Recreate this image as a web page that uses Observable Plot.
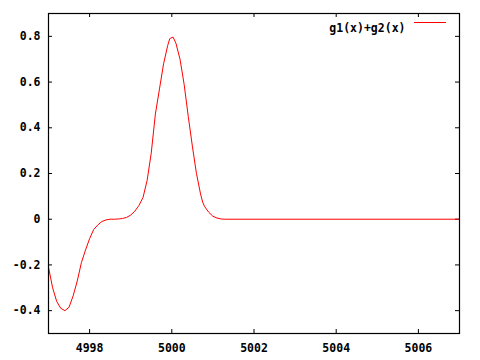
<!DOCTYPE html>
<html>
<head>
<meta charset="utf-8">
<script src="https://cdn.jsdelivr.net/npm/d3@7"></script>
<script src="https://cdn.jsdelivr.net/npm/@observablehq/plot@0.6"></script>
<style>
  html, body { margin: 0; padding: 0; background: #fff; }
  #chart { width: 480px; height: 360px; }
</style>
</head>
<body>
<div id="chart"></div>
<script>
// Curve values (x, g1(x)+g2(x))
const xs = [4997.0, 4997.1, 4997.2, 4997.3, 4997.4, 4997.5, 4997.6, 4997.7, 4997.8, 4997.9,
            4998.0, 4998.1, 4998.2, 4998.3, 4998.4, 4998.5, 4998.6, 4998.7, 4998.8, 4998.9,
            4999.0, 4999.1, 4999.2, 4999.3, 4999.4, 4999.5, 4999.6, 4999.7, 4999.8, 4999.9,
            4999.95, 5000.03, 5000.1, 5000.2, 5000.3, 5000.4, 5000.5, 5000.6, 5000.7, 5000.75,
            5000.8, 5000.9, 5001.0, 5001.1, 5001.2, 5001.3, 5007.0];
const ys = [-0.21, -0.30, -0.36, -0.39, -0.40, -0.385, -0.335, -0.27, -0.19, -0.135,
            -0.085, -0.045, -0.025, -0.01, -0.003, 0, 0, 0.001, 0.003, 0.008,
            0.018, 0.035, 0.06, 0.095, 0.17, 0.29, 0.46, 0.57, 0.68, 0.76,
            0.79, 0.797, 0.77, 0.70, 0.59, 0.45, 0.32, 0.20, 0.11, 0.075,
            0.055, 0.03, 0.013, 0.005, 0.001, 0, 0];
const xTicks = [4998, 5000, 5002, 5004, 5006];
const yTicks = [-0.4, -0.2, 0, 0.2, 0.4, 0.6, 0.8];
const seriesName = "g1(x)+g2(x)";

const data = xs.map((x, i) => ({x, y: ys[i]}));
const W = 480, H = 360, mL = 48, mR = 21, mT = 13, mB = 27;
const pw = W - mL - mR, ph = H - mT - mB;
const tl = 4;

const chart = Plot.plot({
  width: W, height: H,
  marginLeft: mL, marginRight: mR, marginTop: mT, marginBottom: mB,
  style: {fontFamily: "'DejaVu Sans Mono', monospace", fontSize: "11.5px", fontWeight: "bold", background: "#fff", color: "#000"},
  x: {domain: [4997, 5007], label: null},
  y: {domain: [-0.5, 0.9], label: null},
  marks: [
    Plot.axisX(xTicks, {tickSize: 0, tickPadding: 10, tickFormat: d => String(d), fill: "#000"}),
    Plot.axisY(yTicks, {tickSize: 0, tickPadding: 8, tickFormat: d => String(d), fill: "#000"}),
    // inward ticks bottom/top
    Plot.tickX(xTicks, {x: d => d, stroke: "#000", insetTop: ph - tl}),
    Plot.tickX(xTicks, {x: d => d, stroke: "#000", insetBottom: ph - tl}),
    // inward ticks left/right
    Plot.tickY(yTicks, {y: d => d, stroke: "#000", insetRight: pw - tl}),
    Plot.tickY(yTicks, {y: d => d, stroke: "#000", insetLeft: pw - tl}),
    Plot.line(data, {x: "x", y: "y", stroke: "#ff0000", strokeWidth: 1}),
    Plot.frame({stroke: "#000", strokeWidth: 1.2}),
    Plot.text([seriesName], {text: d => d, frameAnchor: "top-right", dx: -54, dy: 10, textAnchor: "end", fill: "#000"})
  ]
});
document.getElementById("chart").appendChild(chart);
// legend line sample
d3.select(chart).append("line")
  .attr("x1", 414).attr("x2", 446).attr("y1", 22.5).attr("y2", 22.5)
  .attr("stroke", "#ff0000").attr("stroke-width", 1);
</script>
</body>
</html>
